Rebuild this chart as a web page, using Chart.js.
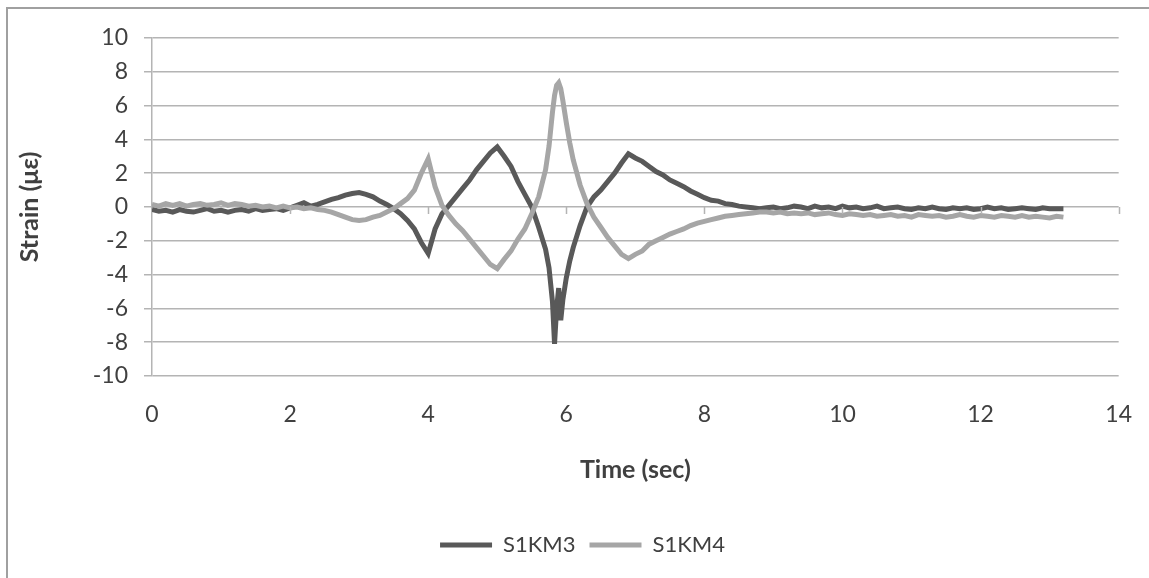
<!DOCTYPE html>
<html>
<head>
<meta charset="utf-8">
<script src="https://cdn.jsdelivr.net/npm/chart.js@4/dist/chart.umd.min.js"></script>
<style>
html,body{margin:0;padding:0;background:#fff;}
#wrap{position:relative;width:1149px;height:578px;}
#frame{position:absolute;left:6px;top:7px;right:0;bottom:0;border-top:2px solid #a0a0a0;border-left:2px solid #a0a0a0;pointer-events:none;}
canvas{position:absolute;left:0;top:0;}
</style>
</head>
<body>
<div id="wrap"><canvas id="c" width="1149" height="578"></canvas><div id="frame"></div></div>
<script>
const time = [
0.0,0.1,0.2,0.3,0.4,0.5,0.6,0.7,0.8,0.9,
1.0,1.1,1.2,1.3,1.4,1.5,1.6,1.7,1.8,1.9,
2.0,2.1,2.2,2.3,2.4,2.5,2.6,2.7,2.8,2.9,
3.0,3.1,3.2,3.3,3.4,3.5,3.6,3.7,3.8,3.9,
4.0,4.1,4.2,4.3,4.4,4.5,4.6,4.7,4.8,4.9,
5.0,5.1,5.2,5.3,5.4,5.5,5.6,5.7,
5.75,5.8,5.83,5.86,5.89,5.92,5.95,6.0,6.05,
6.1,6.2,6.3,6.4,6.5,6.6,6.7,6.8,6.9,
7.0,7.1,7.2,7.3,7.4,7.5,7.6,7.7,7.8,7.9,
8.0,8.1,8.2,8.3,8.4,8.5,8.6,8.7,8.8,8.9,
9.0,9.1,9.2,9.3,9.4,9.5,9.6,9.7,9.8,9.9,
10.0,10.1,10.2,10.3,10.4,10.5,10.6,10.7,10.8,10.9,
11.0,11.1,11.2,11.3,11.4,11.5,11.6,11.7,11.8,11.9,
12.0,12.1,12.2,12.3,12.4,12.5,12.6,12.7,12.8,12.9,
13.0,13.1,13.2
];
const s1km3 = [
-0.15,-0.25,-0.2,-0.3,-0.15,-0.25,-0.3,-0.2,-0.1,-0.25,
-0.2,-0.3,-0.2,-0.15,-0.25,-0.1,-0.2,-0.15,-0.1,-0.2,
-0.05,0.1,0.25,0.05,0.15,0.3,0.45,0.55,0.7,0.8,
0.85,0.75,0.6,0.35,0.15,-0.1,-0.4,-0.8,-1.3,-2.1,
-2.75,-1.3,-0.4,0.1,0.6,1.1,1.6,2.2,2.7,3.2,
3.55,3.0,2.4,1.5,0.75,0.0,-1.2,-2.5,
-3.6,-5.6,-8.1,-6.0,-4.8,-6.7,-5.5,-4.2,-3.2,
-2.4,-1.1,0.0,0.6,1.0,1.5,2.0,2.6,3.15,
2.9,2.7,2.4,2.1,1.9,1.6,1.4,1.2,0.95,0.75,
0.55,0.4,0.35,0.2,0.15,0.05,0.0,-0.05,-0.1,-0.05,
0.0,-0.1,-0.05,0.05,0.0,-0.1,0.05,-0.05,0.0,-0.1,
0.05,-0.05,0.0,-0.1,-0.05,0.05,-0.1,-0.05,0.0,-0.1,
-0.15,-0.05,-0.1,0.0,-0.1,-0.15,-0.05,-0.1,-0.05,-0.15,
-0.1,0.0,-0.1,-0.05,-0.15,-0.1,-0.05,-0.1,-0.15,-0.05,
-0.1,-0.1,-0.1
];
const s1km4 = [
0.15,0.05,0.2,0.1,0.2,0.05,0.15,0.2,0.1,0.15,
0.25,0.1,0.2,0.15,0.05,0.1,0.0,0.05,-0.05,0.05,
-0.05,0.0,-0.1,-0.05,-0.15,-0.2,-0.3,-0.45,-0.6,-0.75,
-0.8,-0.75,-0.6,-0.5,-0.3,-0.1,0.2,0.5,1.0,2.0,
2.85,1.2,0.1,-0.5,-1.0,-1.4,-1.9,-2.4,-2.9,-3.4,
-3.65,-3.1,-2.6,-1.9,-1.3,-0.4,0.6,2.2,
3.6,5.6,6.6,7.2,7.35,7.0,6.3,5.0,3.8,
2.8,1.3,0.2,-0.6,-1.2,-1.8,-2.3,-2.8,-3.05,
-2.8,-2.6,-2.2,-2.0,-1.8,-1.6,-1.45,-1.3,-1.1,-0.95,
-0.85,-0.75,-0.65,-0.55,-0.5,-0.45,-0.4,-0.35,-0.3,-0.3,
-0.35,-0.3,-0.4,-0.35,-0.4,-0.35,-0.45,-0.4,-0.35,-0.45,
-0.5,-0.4,-0.45,-0.5,-0.45,-0.55,-0.5,-0.45,-0.55,-0.5,
-0.6,-0.45,-0.5,-0.55,-0.5,-0.6,-0.55,-0.45,-0.55,-0.6,
-0.5,-0.55,-0.6,-0.5,-0.55,-0.6,-0.5,-0.6,-0.55,-0.6,
-0.65,-0.55,-0.6
];
const seriesNames = ['S1KM3','S1KM4'];
const seriesColors = ['#595959','#a6a6a6'];
const xTicks = [0,2,4,6,8,10,12,14];
const yTicks = [-10,-8,-6,-4,-2,0,2,4,6,8,10];

const FONT = 'Lato, "Open Sans", sans-serif';
const GRID = '#b4b4b4';

const zeroTicks = {
  id:'zeroTicks',
  afterDatasetsDraw(chart){
    const {ctx, scales:{x,y}} = chart;
    const y0 = y.getPixelForValue(0);
    ctx.save();
    ctx.strokeStyle = GRID; ctx.lineWidth = 1.5;
    ctx.beginPath();
    xTicks.forEach(v=>{ if(v===0) return; const px = Math.round(x.getPixelForValue(v))+0.5; ctx.moveTo(px,y0); ctx.lineTo(px,y0+7); });
    ctx.stroke();
    ctx.restore();
  }
};
const whiteBg = {
  id:'whiteBg',
  beforeDraw(chart){ const c=chart.ctx; c.save(); c.fillStyle='#fff'; c.fillRect(0,0,chart.width,chart.height); c.restore(); }
};
const legendShift = {
  id:'legendShift',
  afterLayout(chart){ if(chart.legend){ chart.legend.left += 19; chart.legend.right += 19; } }
};

const mk = (vals)=> time.map((t,i)=>({x:t,y:vals[i]}));

new Chart(document.getElementById('c'), {
  type:'line',
  data:{
    datasets:[
      {label:seriesNames[0], data:mk(s1km3), borderColor:seriesColors[0], backgroundColor:seriesColors[0], borderWidth:5, pointRadius:0, tension:0, order:1},
      {label:seriesNames[1], data:mk(s1km4), borderColor:seriesColors[1], backgroundColor:seriesColors[1], borderWidth:5, pointRadius:0, tension:0, order:0}
    ]
  },
  options:{
    responsive:false, animation:false,
    layout:{padding:{left:6, right:28, top:38, bottom:12}},
    plugins:{
      legend:{
        position:'bottom',
        labels:{usePointStyle:true, pointStyle:'line', pointStyleWidth:52, padding:14, color:'#404040', font:{family:FONT, size:22},
          sort:(a,b)=>a.datasetIndex-b.datasetIndex},
      },
      tooltip:{enabled:false}
    },
    scales:{
      x:{
        type:'linear', min:0, max:14,
        afterBuildTicks(s){ s.ticks = xTicks.map(v=>({value:v})); },
        afterFit(s){ s.height = 144; },
        grid:{display:false}, border:{display:false},
        ticks:{color:'#404040', font:{family:FONT, size:23}, padding:17, maxRotation:0},
        title:{display:true, text:'Time (sec)', color:'#404040', font:{family:FONT, size:25, weight:'bold'}, padding:{top:0,bottom:35}}
      },
      y:{
        min:-10, max:10,
        afterBuildTicks(s){ s.ticks = yTicks.map(v=>({value:v})); },
        afterFit(s){ s.width = 146; },
        grid:{color:GRID, lineWidth:1.5, tickLength:8, drawTicks:true},
        border:{display:true, color:GRID, width:1.5},
        ticks:{color:'#404040', font:{family:FONT, size:23}, padding:16},
        title:{display:true, text:'Strain (με)', color:'#404040', font:{family:FONT, size:25, weight:'bold'}, padding:{top:9,bottom:0}}
      }
    }
  },
  plugins:[whiteBg, zeroTicks, legendShift]
});
</script>
</body>
</html>
